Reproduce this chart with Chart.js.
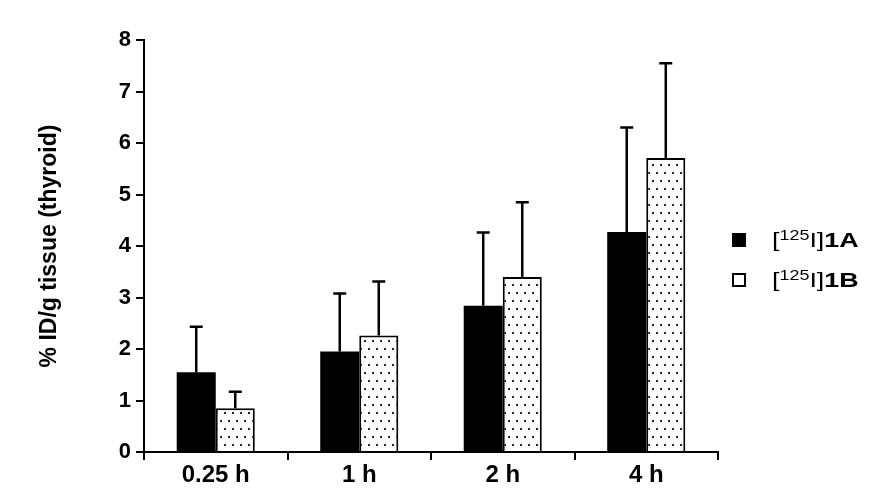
<!DOCTYPE html>
<html>
<head>
<meta charset="utf-8">
<script src="https://cdn.jsdelivr.net/npm/chart.js@4/dist/chart.umd.min.js"></script>
<style>
  body { margin: 0; background: #fff; }
  #wrap { position: relative; width: 882px; height: 500px; }
  .leg { position: absolute; left: 732px; font-family: "Liberation Sans", Arial, sans-serif; font-size: 21px; color: #000; }
  .leg .box { position: absolute; left: 0; width: 14px; height: 14px; box-sizing: border-box; }
  .leg .txt { position: absolute; left: 40px; white-space: nowrap; line-height: 20px; transform: scaleX(1.28); transform-origin: left center; }
  .leg sup { font-size: 14px; vertical-align: 7px; line-height: 0; }
  .leg b { font-weight: bold; }
</style>
</head>
<body>
<div id="wrap">
  <canvas id="chart" width="882" height="500"></canvas>
  <div class="leg" style="top:233px"><div class="box" style="background:#000"></div><div class="txt" style="top:-3px">[<sup>125</sup>I]<b>1A</b></div></div>
  <div class="leg" style="top:273px"><div class="box" style="background:#fff;border:2px solid #000"></div><div class="txt" style="top:-3px">[<sup>125</sup>I]<b>1B</b></div></div>
</div>
<script>
const labels = ["0.25 h", "1 h", "2 h", "4 h"];
const valuesA = [1.55, 1.95, 2.84, 4.27];
const errorsA = [0.88, 1.13, 1.42, 2.03];
const valuesB = [0.85, 2.26, 3.40, 5.71];
const errorsB = [0.32, 1.05, 1.45, 1.84];
const yTicks = [0, 1, 2, 3, 4, 5, 6, 7, 8];

const FONT = "'Liberation Sans', Arial, sans-serif";

// sparse dot fill for the second series
function dotPattern() {
  let c = document.createElement("canvas");
  c.width = 16;
  c.height = 16;
  let g = c.getContext("2d");
  g.fillStyle = "#fff";
  g.fillRect(0, 0, 16, 16);
  g.fillStyle = "#222";
  [[4, 4], [12, 4], [0, 12], [8, 12]].forEach(([x, y]) => g.fillRect(x, y, 2, 2));
  return g.createPattern(c, "repeat");
}

const errorBars = {
  id: "errorBars",
  afterDatasetsDraw(chart) {
    const ctx = chart.ctx;
    const y = chart.scales.y;
    ctx.save();
    ctx.strokeStyle = "#000";
    ctx.lineWidth = 2.5;
    chart.data.datasets.forEach((ds, i) => {
      chart.getDatasetMeta(i).data.forEach((bar, j) => {
        const top = y.getPixelForValue(ds.data[j] + ds.errors[j]);
        ctx.beginPath();
        ctx.moveTo(bar.x, bar.y);
        ctx.lineTo(bar.x, top);
        ctx.moveTo(bar.x - 6.5, top);
        ctx.lineTo(bar.x + 6.5, top);
        ctx.stroke();
      });
    });
    ctx.restore();
  },
};

new Chart(document.getElementById("chart"), {
  type: "bar",
  data: {
    labels: labels,
    datasets: [
      {
        label: "[125I]1A",
        data: valuesA,
        errors: errorsA,
        backgroundColor: "#000",
        borderWidth: 0,
      },
      {
        label: "[125I]1B",
        data: valuesB,
        errors: errorsB,
        backgroundColor: dotPattern(),
        borderColor: "#000",
        borderWidth: 2,
      },
    ],
  },
  options: {
    responsive: false,
    animation: false,
    layout: { padding: { left: 0, top: 40, right: 164, bottom: 0 } },
    datasets: { bar: { categoryPercentage: 0.544, barPercentage: 1.0 } },
    plugins: {
      legend: { display: false },
      tooltip: { enabled: false },
    },
    scales: {
      x: {
        offset: true,
        grid: { offset: true, drawOnChartArea: false, drawTicks: true, tickLength: 8, color: "#000", lineWidth: 2 },
        border: { color: "#000", width: 2 },
        ticks: { color: "#000", padding: 1, font: { family: FONT, size: 24, weight: "bold" } },
        afterFit: (s) => { s.height = 48; },
      },
      y: {
        min: 0,
        max: 8,
        afterBuildTicks: (s) => { s.ticks = yTicks.map((v) => ({ value: v })); },
        grid: { drawOnChartArea: false, drawTicks: true, tickLength: 8, color: "#000", lineWidth: 2 },
        border: { color: "#000", width: 2 },
        ticks: { color: "#000", padding: 5, font: { family: FONT, size: 22, weight: "bold" } },
        title: {
          display: true,
          text: "% ID/g tissue (thyroid)",
          color: "#000",
          padding: { top: 36, bottom: 0 },
          font: { family: FONT, size: 23, weight: "bold" },
        },
        afterFit: (s) => { s.width = 144; },
      },
    },
  },
  plugins: [errorBars],
});
</script>
</body>
</html>
